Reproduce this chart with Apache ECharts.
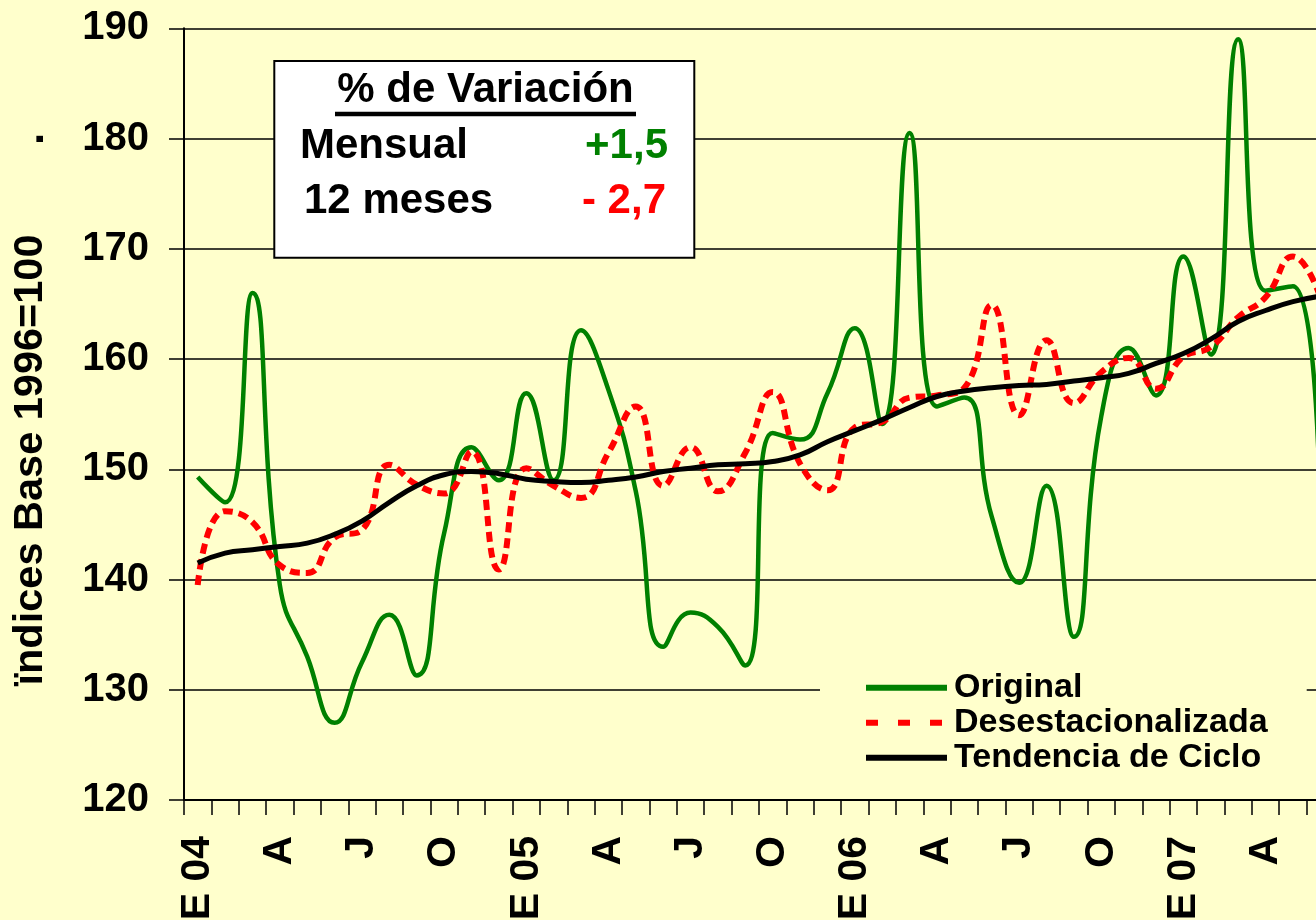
<!DOCTYPE html>
<html>
<head>
<meta charset="utf-8">
<script src="https://cdn.jsdelivr.net/npm/echarts@6/dist/echarts.min.js"></script>
<style>
html,body{margin:0;padding:0;background:#FFFFCC;}
#chart{width:1316px;height:920px;}
</style>
</head>
<body>
<div id="chart"></div>
<script>
// Months Jan 2004 .. Jun 2007 (E = Enero)
const months = ['E 04','F','M','A','M','J','J','A','S','O','N','D',
                'E 05','F','M','A','M','J','J','A','S','O','N','D',
                'E 06','F','M','A','M','J','J','A','S','O','N','D',
                'E 07','F','M','A','M','J'];

const original = [149.3, 147.0, 166.0, 139.5, 133.0, 127.0, 132.5, 136.8, 131.3, 144.2, 152.0, 149.0,
                  156.9, 149.0, 162.6, 157.2, 148.0, 133.9, 137.0, 135.7, 132.2, 153.3, 152.7, 156.9,
                  162.8, 154.1, 180.5, 155.7, 156.5, 145.7, 139.7, 148.5, 134.8, 154.8, 161.0, 156.7,
                  169.3, 160.4, 189.0, 166.2, 166.6, 145.5];

const desestacionalizada = [139.5, 146.2, 145.2, 141.3, 140.6, 143.8, 144.5, 150.4, 148.6, 147.8, 151.6, 140.9,
                            150.1, 148.5, 147.4, 151.5, 155.7, 148.5, 152.0, 148.0, 151.5, 157.0, 150.5, 148.1,
                            153.8, 154.3, 156.5, 156.7, 157.4, 164.9, 154.9, 161.7, 156.0, 158.8, 160.1, 157.3,
                            160.2, 161.1, 163.8, 165.6, 169.3, 165.6];

const tendencia = [141.5, 142.4, 142.7, 143.0, 143.3, 144.1, 145.3, 147.0, 148.5, 149.5, 149.8, 149.6,
                   149.1, 148.9, 148.8, 149.0, 149.3, 149.8, 150.1, 150.4, 150.5, 150.7, 151.3, 152.5,
                   153.5, 154.5, 155.6, 156.6, 157.1, 157.4, 157.6, 157.7, 158.0, 158.3, 158.7, 159.6,
                   160.5, 161.8, 163.4, 164.4, 165.2, 165.7];

const yTicks = {min: 120, max: 190, interval: 10};
const seriesNames = ['Original', 'Desestacionalizada', 'Tendencia de Ciclo'];
const boxTitle = '% de Variación';
const boxRows = [['Mensual', '+1,5'], ['12 meses', '- 2,7']];
const yName = 'ïndices Base 1996=100';

const FONT = '"Liberation Sans", Arial, sans-serif';
const chart = echarts.init(document.getElementById('chart'));

const option = {
  backgroundColor: '#FFFFCC',
  animation: false,
  grid: {left: 184, top: 28.3, bottom: 120, width: 1150, containLabel: false, outerBoundsMode: 'none'},
  xAxis: {
    type: 'category',
    data: months,
    boundaryGap: true,
    axisLine: {show: true, lineStyle: {color: '#000', width: 2}},
    axisTick: {show: true, interval: 0, length: 15, lineStyle: {color: '#000', width: 1.5}},
    axisLabel: {
      interval: 2, rotate: 90, margin: 36,
      fontFamily: FONT, fontSize: 41, fontWeight: 'bold', color: '#000'
    },
    splitLine: {show: false}
  },
  yAxis: {
    type: 'value',
    min: yTicks.min, max: yTicks.max, interval: yTicks.interval,
    axisLine: {show: true, lineStyle: {color: '#000', width: 2}},
    axisTick: {show: true, length: 15, lineStyle: {color: '#000', width: 1.5}},
    axisLabel: {margin: 35, fontFamily: FONT, fontSize: 40, fontWeight: 'bold', color: '#000'},
    splitLine: {show: true, lineStyle: {color: '#000', width: 1.5}}
  },
  legend: {
    orient: 'vertical',
    left: 820, top: 662.7,
    backgroundColor: '#FFFFCC',
    padding: [8, 39, 8, 43],
    itemWidth: 81, itemHeight: 14, itemGap: 1,
    textStyle: {fontFamily: FONT, fontSize: 34, lineHeight: 34, fontWeight: 'bold', color: '#000', padding: [0, 0, 0, 2]},
    data: [
      {name: seriesNames[0], lineStyle: {width: 6}, itemStyle: {opacity: 0}},
      {name: seriesNames[1], lineStyle: {width: 6, type: [12, 20]}, itemStyle: {opacity: 0}},
      {name: seriesNames[2], lineStyle: {width: 6}, itemStyle: {opacity: 0}}
    ]
  },
  series: [
    {
      name: seriesNames[0], type: 'line', data: original, symbol: 'none', smooth: 0.5,
      lineStyle: {color: '#008000', width: 4.5}, itemStyle: {color: '#008000'}, z: 2
    },
    {
      name: seriesNames[1], type: 'line', data: desestacionalizada, symbol: 'none', smooth: 0.5,
      lineStyle: {color: '#FF0000', width: 6, type: [10, 6]}, itemStyle: {color: '#FF0000'}, z: 3
    },
    {
      name: seriesNames[2], type: 'line', data: tendencia, symbol: 'none', smooth: 0.5,
      lineStyle: {color: '#000000', width: 5}, itemStyle: {color: '#000000'}, z: 4
    }
  ],
  graphic: [
    {
      type: 'text', z: 10, x: 31, y: 460, rotation: Math.PI / 2,
      style: {text: yName, fontFamily: FONT, fontSize: 41.5, fontWeight: 'bold', fill: '#000', align: 'center', verticalAlign: 'middle'}
    },
    {
      type: 'text', z: 10, x: 30.5, y: 139, rotation: Math.PI / 2,
      style: {text: '.', fontFamily: FONT, fontSize: 44, fontWeight: 'bold', fill: '#000', align: 'center', verticalAlign: 'middle'}
    },
    {
      type: 'group', z: 10,
      children: [
        {type: 'rect', shape: {x: 274.3, y: 61, width: 420, height: 196.7}, style: {fill: '#FFFFFF', stroke: '#000', lineWidth: 2}, z: 10},
        {type: 'text', x: 485.5, y: 90.5, z: 11, style: {text: boxTitle, fontFamily: FONT, fontSize: 42, fontWeight: 'bold', fill: '#000', align: 'center', verticalAlign: 'middle'}},
        {type: 'rect', shape: {x: 335, y: 111.7, width: 301, height: 4.5}, style: {fill: '#000'}, z: 11},
        {type: 'text', x: 300, y: 146.3, z: 11, style: {text: boxRows[0][0], fontFamily: FONT, fontSize: 42, fontWeight: 'bold', fill: '#000', align: 'left', verticalAlign: 'middle'}},
        {type: 'text', x: 668, y: 146.3, z: 11, style: {text: boxRows[0][1], fontFamily: FONT, fontSize: 42, fontWeight: 'bold', fill: '#008000', align: 'right', verticalAlign: 'middle'}},
        {type: 'text', x: 304, y: 201.8, z: 11, style: {text: boxRows[1][0], fontFamily: FONT, fontSize: 42, fontWeight: 'bold', fill: '#000', align: 'left', verticalAlign: 'middle'}},
        {type: 'text', x: 666, y: 201.8, z: 11, style: {text: boxRows[1][1], fontFamily: FONT, fontSize: 42, fontWeight: 'bold', fill: '#FF0000', align: 'right', verticalAlign: 'middle'}}
      ]
    }
  ]
};
chart.setOption(option);
</script>
</body>
</html>
